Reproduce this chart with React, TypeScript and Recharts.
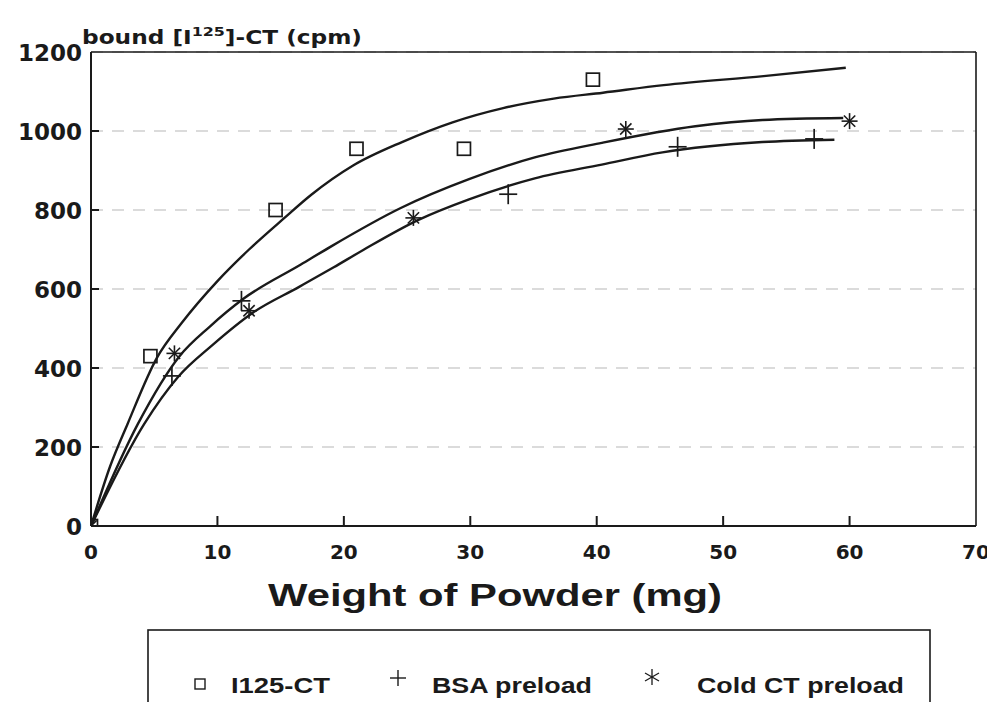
import React from 'react';
import { ComposedChart, Line, Scatter, XAxis, YAxis, CartesianGrid, ReferenceLine } from 'recharts';

// ---- data ----
const xTicks = [0, 10, 20, 30, 40, 50, 60, 70];
const yTicks = [0, 200, 400, 600, 800, 1000, 1200];

const i125Points = [
  { x: 0, y: 0 }, { x: 4.7, y: 430 }, { x: 14.6, y: 800 }, { x: 21, y: 955 },
  { x: 29.5, y: 955 }, { x: 39.7, y: 1130 },
];
const bsaPoints = [
  { x: 0, y: 0 }, { x: 6.4, y: 380 }, { x: 11.9, y: 570 }, { x: 33, y: 840 },
  { x: 46.4, y: 960 }, { x: 57.2, y: 980 },
];
const coldPoints = [
  { x: 0, y: 0 }, { x: 6.6, y: 437 }, { x: 12.5, y: 545 }, { x: 25.5, y: 780 },
  { x: 42.3, y: 1005 }, { x: 60, y: 1025 },
];

const i125Curve = [
  { x: 0, y: 0 }, { x: 1.5, y: 150 }, { x: 2.9, y: 259 }, { x: 5.2, y: 425 }, { x: 7.2, y: 515 },
  { x: 10, y: 620 }, { x: 12.5, y: 700 }, { x: 15.3, y: 780 }, { x: 17.4, y: 838 },
  { x: 20.7, y: 912 }, { x: 24.6, y: 972 }, { x: 28.6, y: 1022 }, { x: 32.6, y: 1058 },
  { x: 36.6, y: 1082 }, { x: 40.5, y: 1097 }, { x: 45.3, y: 1116 }, { x: 53.2, y: 1139 },
  { x: 59.7, y: 1160 },
];
const coldCurve = [
  { x: 0, y: 0 }, { x: 3.7, y: 258 }, { x: 7.0, y: 430 }, { x: 9.4, y: 505 },
  { x: 12.0, y: 574 }, { x: 16.6, y: 662 }, { x: 19.0, y: 708 }, { x: 24.5, y: 805 },
  { x: 29.9, y: 878 }, { x: 35.1, y: 933 }, { x: 40.4, y: 970 }, { x: 47.8, y: 1012 },
  { x: 53.1, y: 1028 }, { x: 59.5, y: 1033 },
];
const bsaCurve = [
  { x: 0, y: 0 }, { x: 4.2, y: 258 }, { x: 6.9, y: 378 }, { x: 9.6, y: 458 },
  { x: 12.8, y: 540 }, { x: 16.5, y: 606 }, { x: 19.2, y: 655 }, { x: 21.6, y: 700 },
  { x: 25.9, y: 775 }, { x: 29.9, y: 827 }, { x: 35.1, y: 880 }, { x: 40.4, y: 915 },
  { x: 45.2, y: 946 }, { x: 53.1, y: 972 }, { x: 58.8, y: 978 },
];

const legendLabels = ['I125-CT', 'BSA preload', 'Cold CT preload'];

const FONT = '"DejaVu Sans", sans-serif';
const FONT2 = '"Liberation Sans", Arial, sans-serif';
const INK = '#1a1a1a';

const SquareShape = (p: any) => (
  <rect x={p.cx - 6.5} y={p.cy - 6.5} width={13} height={13} fill="none" stroke={INK} strokeWidth={1.7} />
);
const PlusShape = (p: any) => (
  <g stroke={INK} strokeWidth={1.7}>
    <line x1={p.cx - 9} y1={p.cy} x2={p.cx + 9} y2={p.cy} />
    <line x1={p.cx} y1={p.cy - 10} x2={p.cx} y2={p.cy + 10} />
  </g>
);
const StarShape = (p: any) => {
  const r = 8;
  const d = r * 0.707;
  return (
    <g stroke={INK} strokeWidth={1.6}>
      <line x1={p.cx} y1={p.cy - r} x2={p.cx} y2={p.cy + r} />
      <line x1={p.cx - r} y1={p.cy} x2={p.cx + r} y2={p.cy} />
      <line x1={p.cx - d} y1={p.cy - d} x2={p.cx + d} y2={p.cy + d} />
      <line x1={p.cx - d} y1={p.cy + d} x2={p.cx + d} y2={p.cy - d} />
    </g>
  );
};

const XTick = (props: any) => {
  const { x, y, payload } = props;
  const v = payload.value;
  return (
    <g>
      {v > 0 && v < 70 && <line x1={x} y1={y} x2={x} y2={y - 10} stroke={INK} strokeWidth={2} />}
      <text x={x} y={y + 33} textAnchor="middle" fontFamily={FONT} fontWeight="bold" fontSize={20} fill={INK}>
        {v}
      </text>
    </g>
  );
};

const YTick = (props: any) => {
  const { x, y, payload } = props;
  const v = payload.value;
  return (
    <g>
      {v > 0 && v < 1200 && <line x1={x} y1={y} x2={x + 8} y2={y} stroke={INK} strokeWidth={2} />}
      <text x={x - 9} y={y + 9} textAnchor="end" fontFamily={FONT} fontWeight="bold" fontSize={23} fill={INK}>
        {v}
      </text>
    </g>
  );
};

const W = 986;
const H = 694;

export default function App() {
  return (
    <div style={{ position: 'relative', width: W, height: H, background: '#fff', overflow: 'hidden' }}>
      <ComposedChart
        width={W}
        height={H}
        margin={{ top: 44, right: 18, bottom: 146, left: 0 }}
      >
        <CartesianGrid vertical={false} horizontal stroke="#cfcfcf" strokeWidth={1.5} strokeDasharray="12 9" />
        <XAxis
          dataKey="x"
          type="number"
          domain={[0, 70]}
          ticks={xTicks}
          height={30}
          tickSize={0}
          tickMargin={0}
          tick={<XTick />}
          axisLine={{ stroke: INK, strokeWidth: 2 }}
          tickLine={false}
          allowDataOverflow
        />
        <YAxis
          dataKey="y"
          type="number"
          domain={[0, 1200]}
          ticks={yTicks}
          width={83}
          tickSize={0}
          tickMargin={0}
          tick={<YTick />}
          axisLine={{ stroke: INK, strokeWidth: 2 }}
          tickLine={false}
          allowDataOverflow
        />
        <ReferenceLine y={1200} stroke={INK} strokeWidth={1.6} />
        <ReferenceLine x={70} stroke={INK} strokeWidth={1.6} />
        <Line data={i125Curve} dataKey="y" type="monotone" stroke={INK} strokeWidth={2.4} dot={false} isAnimationActive={false} />
        <Line data={coldCurve} dataKey="y" type="monotone" stroke={INK} strokeWidth={2.4} dot={false} isAnimationActive={false} />
        <Line data={bsaCurve} dataKey="y" type="monotone" stroke={INK} strokeWidth={2.4} dot={false} isAnimationActive={false} />
        <Scatter data={i125Points} dataKey="y" shape={SquareShape} isAnimationActive={false} />
        <Scatter data={bsaPoints} dataKey="y" shape={PlusShape} isAnimationActive={false} />
        <Scatter data={coldPoints} dataKey="y" shape={StarShape} isAnimationActive={false} />
      </ComposedChart>
      <svg
        width={W}
        height={H}
        style={{ position: 'absolute', left: 0, top: 0, pointerEvents: 'none' }}
      >
        <text x={74} y={36} fontFamily={FONT} fontWeight="bold" fontSize={19} fill={INK} textLength={280} lengthAdjust="spacingAndGlyphs">
          bound [I<tspan dy={-8} fontSize={13}>125</tspan><tspan dy={8}>]-CT (cpm)</tspan>
        </text>
        <text x={260} y={598} fontFamily={FONT2} fontWeight="bold" fontSize={32} fill={INK} textLength={454} lengthAdjust="spacingAndGlyphs">
          Weight of Powder (mg)
        </text>
        <rect x={140} y={622} width={782} height={80} fill="none" stroke={INK} strokeWidth={1.6} />
        <rect x={187} y={671} width={10} height={10} fill="none" stroke={INK} strokeWidth={1.4} />
        <text x={223} y={685} fontFamily={FONT2} fontWeight="bold" fontSize={22} fill={INK} textLength={99} lengthAdjust="spacingAndGlyphs">
          {legendLabels[0]}
        </text>
        <g stroke={INK} strokeWidth={1.4}>
          <line x1={382} y1={670} x2={398} y2={670} />
          <line x1={390} y1={662} x2={390} y2={678} />
        </g>
        <text x={424} y={685} fontFamily={FONT2} fontWeight="bold" fontSize={22} fill={INK} textLength={160} lengthAdjust="spacingAndGlyphs">
          {legendLabels[1]}
        </text>
        <g stroke={INK} strokeWidth={1.3}>
          <line x1={644} y1={661} x2={644} y2={677} />
          <line x1={637} y1={665} x2={651} y2={673} />
          <line x1={637} y1={673} x2={651} y2={665} />
        </g>
        <text x={689} y={685} fontFamily={FONT2} fontWeight="bold" fontSize={22} fill={INK} textLength={207} lengthAdjust="spacingAndGlyphs">
          {legendLabels[2]}
        </text>
      </svg>
    </div>
  );
}
